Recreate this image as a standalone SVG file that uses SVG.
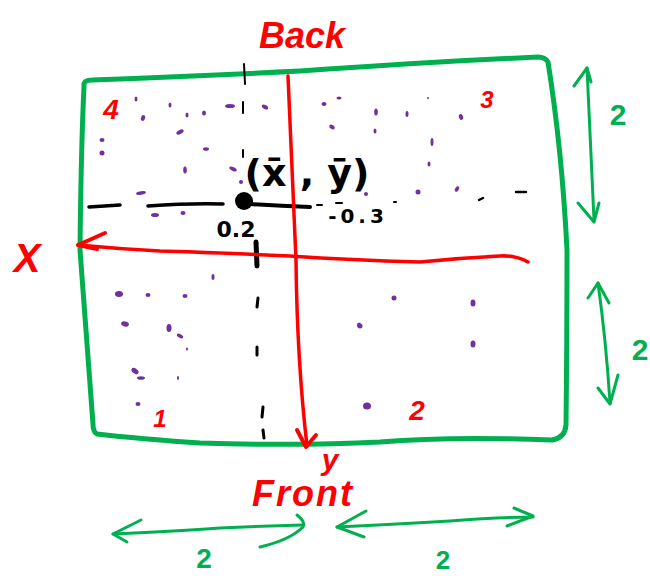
<svg xmlns="http://www.w3.org/2000/svg" width="650" height="576" viewBox="0 0 650 576">
<style>
.g{fill:none;stroke:#00b050;stroke-linecap:round;stroke-linejoin:round}
.r{fill:none;stroke:#ff0000;stroke-linecap:round;stroke-linejoin:round}
.k{fill:none;stroke:#000;stroke-linecap:round}
.p{fill:#7030a0}
.tr{fill:#ff0000;font-family:"Liberation Sans","DejaVu Sans",sans-serif;font-style:italic;font-weight:bold;text-anchor:middle}
.tg{fill:#00b050;font-family:"Liberation Sans","DejaVu Sans",sans-serif;font-weight:bold;text-anchor:middle}
.tk{fill:#000;font-family:"DejaVu Sans","Liberation Sans",sans-serif;font-weight:bold;text-anchor:middle}
</style>
<rect width="650" height="576" fill="#fff"/>

<g id="table">
<path class="g" stroke-width="5" d="M84,86 Q83,80 92,80 Q200,76 300,71 Q430,62 538,57 Q545,57 548,62 Q562,150 567,250 Q567,340 566,425 Q565,438 552,440 Q450,436 380,442 Q300,446 200,443 Q140,439 97,434 Q93,432 93,424 Q86,330 80,250 Q81,150 84,86 Z"/>
</g>

<g id="scatter">
<ellipse class="p" cx="136" cy="99" rx="1.5" ry="2.5"/>
<ellipse class="p" cx="143" cy="118" rx="2" ry="3" transform="rotate(20 143 118)"/>
<ellipse class="p" cx="170" cy="105" rx="1.5" ry="2.5"/>
<ellipse class="p" cx="187" cy="115" rx="1.5" ry="2.5"/>
<ellipse class="p" cx="204" cy="113" rx="2" ry="2.5"/>
<ellipse class="p" cx="230" cy="106" rx="5" ry="2"/>
<ellipse class="p" cx="265" cy="107" rx="3.5" ry="2" transform="rotate(30 265 107)"/>
<ellipse class="p" cx="180" cy="132" rx="4" ry="2" transform="rotate(-30 180 132)"/>
<ellipse class="p" cx="102" cy="140" rx="2.5" ry="2"/>
<ellipse class="p" cx="102" cy="153" rx="2.5" ry="2.5"/>
<ellipse class="p" cx="206" cy="149" rx="3" ry="1.8"/>
<ellipse class="p" cx="185" cy="170" rx="1.8" ry="3.5"/>
<ellipse class="p" cx="233" cy="169" rx="4" ry="1.8" transform="rotate(25 233 169)"/>
<ellipse class="p" cx="241" cy="182" rx="2" ry="2"/>
<ellipse class="p" cx="141" cy="193" rx="5" ry="1.8" transform="rotate(-8 141 193)"/>
<ellipse class="p" cx="155" cy="215" rx="4" ry="2"/>
<ellipse class="p" cx="183" cy="213" rx="2.5" ry="2"/>
<ellipse class="p" cx="324" cy="104" rx="2.5" ry="2"/>
<ellipse class="p" cx="339" cy="98" rx="2.5" ry="1.5"/>
<ellipse class="p" cx="332" cy="127" rx="3" ry="2" transform="rotate(30 332 127)"/>
<ellipse class="p" cx="376" cy="112" rx="1.8" ry="3.5"/>
<ellipse class="p" cx="375" cy="131" rx="1.5" ry="2.5"/>
<ellipse class="p" cx="407" cy="114" rx="1.5" ry="3"/>
<ellipse class="p" cx="428" cy="98" rx="1" ry="1"/>
<ellipse class="p" cx="461" cy="117" rx="2" ry="3" transform="rotate(-20 461 117)"/>
<ellipse class="p" cx="432" cy="142" rx="1.5" ry="4"/>
<ellipse class="p" cx="429" cy="164" rx="1.5" ry="2.5"/>
<ellipse class="p" cx="418" cy="192" rx="2.5" ry="2.5"/>
<ellipse class="p" cx="457" cy="189" rx="1.8" ry="3" transform="rotate(30 457 189)"/>
<ellipse class="p" cx="366" cy="194" rx="2" ry="2"/>
<ellipse class="p" cx="213" cy="277" rx="1.5" ry="3"/>
<ellipse class="p" cx="119" cy="294" rx="4" ry="3"/>
<ellipse class="p" cx="148" cy="295" rx="2.5" ry="2"/>
<ellipse class="p" cx="185" cy="296" rx="2.5" ry="2"/>
<ellipse class="p" cx="125" cy="324" rx="4" ry="2.5" transform="rotate(15 125 324)"/>
<ellipse class="p" cx="169" cy="328" rx="2.5" ry="4"/>
<ellipse class="p" cx="180" cy="336" rx="3.5" ry="1.8" transform="rotate(30 180 336)"/>
<ellipse class="p" cx="187" cy="349" rx="1" ry="1.5"/>
<ellipse class="p" cx="135" cy="371" rx="4" ry="2.5" transform="rotate(35 135 371)"/>
<ellipse class="p" cx="141" cy="378" rx="4" ry="1.8"/>
<ellipse class="p" cx="178" cy="378" rx="1" ry="2"/>
<ellipse class="p" cx="138" cy="404" rx="2.5" ry="2"/>
<ellipse class="p" cx="359" cy="325" rx="2" ry="2.5"/>
<ellipse class="p" cx="394" cy="298" rx="2.5" ry="2.5"/>
<ellipse class="p" cx="473" cy="303" rx="2.5" ry="3.5"/>
<ellipse class="p" cx="360" cy="326" rx="2.5" ry="2.5"/>
<ellipse class="p" cx="473" cy="344" rx="2.5" ry="3.5"/>
<ellipse class="p" cx="367" cy="406" rx="4" ry="3.5"/>
</g>

<g id="centroid-guides">
<path class="k" stroke-width="2" d="M244,64 L245,84"/>
<path class="k" stroke-width="2" d="M243,102 L243,113"/>
<path class="k" stroke-width="2" d="M243,150 L243,157"/>
<path class="k" stroke-width="5" d="M256,242 L257,266"/>
<path class="k" stroke-width="3" d="M258,298 L257,307"/>
<path class="k" stroke-width="3" d="M257,347 L257,355"/>
<path class="k" stroke-width="3" d="M263,407 L262,417"/>
<path class="k" stroke-width="3" d="M263,430 L264,438"/>
<path class="k" stroke-width="3.5" d="M89,207 L120,205"/>
<path class="k" stroke-width="3.5" d="M148,206 Q190,203 223,204"/>
<path class="k" stroke-width="4" d="M250,204 Q280,206 310,207"/>
<path class="k" stroke-width="2" d="M317,205 L322,205"/>
<path class="k" stroke-width="2" d="M336,203 L342,203"/>
<path class="k" stroke-width="2" d="M394,202 L396,202"/>
<path class="k" stroke-width="2.5" d="M479,200 L483,198"/>
<path class="k" stroke-width="2.5" d="M516,192 L526,192"/>
<circle cx="244" cy="201" r="9" fill="#000"/>
</g>

<g id="axes">
<path class="r" stroke-width="3.5" d="M288,76 Q292,160 296,260 Q297,360 307,446"/>
<path class="r" stroke-width="4" d="M297,430 L306,447 L316,435"/>
<path class="r" stroke-width="3.5" d="M528,262 Q515,255 500,256 Q460,258 420,262 Q350,260 290,256 Q200,252 160,251 Q120,249 78,245"/>
<path class="r" stroke-width="4" d="M105,233 L78,245 L97,249"/>
</g>

<g id="dimensions">
<path class="g" stroke-width="3" d="M587,68 Q590,140 594,220"/>
<path class="g" stroke-width="3" d="M574,86 L587,68 L591,82"/>
<path class="g" stroke-width="3" d="M578,203 L594,222 L599,203"/>
<path class="g" stroke-width="3" d="M598,283 Q606,340 610,403"/>
<path class="g" stroke-width="3" d="M588,298 L598,283 L609,303"/>
<path class="g" stroke-width="3" d="M598,388 L610,404 L618,375"/>
<path class="g" stroke-width="3" d="M113,534 Q180,531 220,528 Q260,526 303,525"/>
<path class="g" stroke-width="3" d="M141,520 L113,534 L127,542"/>
<path class="g" stroke-width="3" d="M297,515 Q306,522 303,527 Q290,540 260,547"/>
<path class="g" stroke-width="3" d="M337,527 Q400,524 450,521 Q500,517 533,517"/>
<path class="g" stroke-width="3" d="M366,511 L337,527 L364,537"/>
<path class="g" stroke-width="3" d="M514,508 L533,516 L507,526"/>
</g>

<g id="labels">
<text class="tr" x="302" y="48" font-size="36">Back</text>
<text class="tr" x="303" y="506" font-size="36" letter-spacing="2">Front</text>
<text class="tr" x="330" y="470" font-size="30">y</text>
<text class="tr" x="27" y="272" font-size="40" font-style="normal">X</text>
<text class="tr" x="111" y="119" font-size="28" font-style="normal">4</text>
<text class="tr" x="487" y="108" font-size="24" font-style="normal">3</text>
<text class="tr" x="160" y="427" font-size="24" font-style="normal">1</text>
<text class="tr" x="417" y="420" font-size="28" font-style="normal">2</text>
<text class="tk" x="307" y="186" font-size="38" font-weight="normal">(x̄ , ȳ)</text>
<text class="tk" x="236" y="237" font-size="22">0.2</text>
<text class="tk" x="358" y="223" font-size="20" letter-spacing="4">-0.3</text>
<text class="tg" x="618" y="125" font-size="30">2</text>
<text class="tg" x="640" y="360" font-size="30">2</text>
<text class="tg" x="204" y="568" font-size="28">2</text>
<text class="tg" x="443" y="569" font-size="26">2</text>
</g>
</svg>
